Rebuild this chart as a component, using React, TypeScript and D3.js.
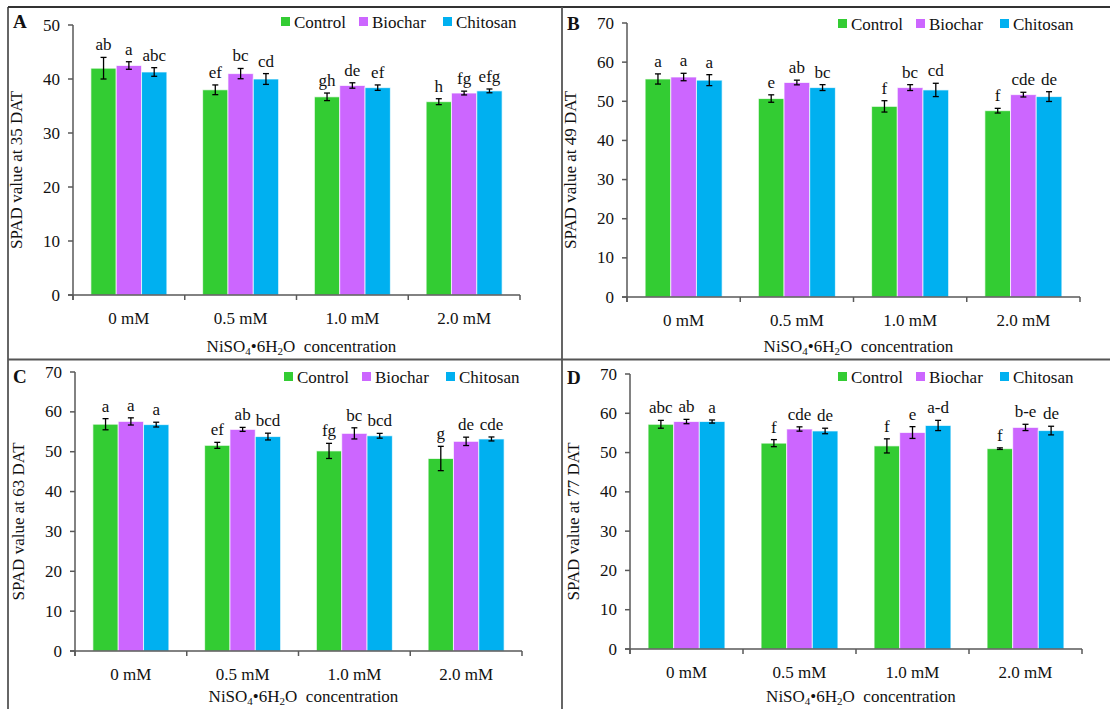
import React from "react";
import * as d3 from "d3";

const categories = ["0 mM", "0.5 mM", "1.0 mM", "2.0 mM"];
const seriesNames = ["Control", "Biochar", "Chitosan"];
const seriesColors = ["#33CC33", "#CC66FF", "#00B0F0"];

// Panel A: 35 DAT
const a35Control = [42.0, 38.0, 36.7, 35.8];
const a35Biochar = [42.5, 41.0, 38.8, 37.4];
const a35Chitosan = [41.3, 40.0, 38.4, 37.8];
const a35ControlErr = [2.0, 0.9, 0.7, 0.55];
const a35BiocharErr = [0.7, 0.95, 0.5, 0.35];
const a35ChitosanErr = [0.8, 1.0, 0.5, 0.35];
const a35Letters = [["ab", "a", "abc"], ["ef", "bc", "cd"], ["gh", "de", "ef"], ["h", "fg", "efg"]];
const a35Ticks = [0, 10, 20, 30, 40, 50];

// Panel B: 49 DAT
const b49Control = [55.7, 50.7, 48.7, 47.6];
const b49Biochar = [56.2, 54.8, 53.5, 51.7];
const b49Chitosan = [55.4, 53.5, 52.9, 51.2];
const b49ControlErr = [1.3, 0.95, 1.45, 0.6];
const b49BiocharErr = [0.95, 0.6, 0.75, 0.6];
const b49ChitosanErr = [1.4, 0.75, 1.7, 1.25];
const b49Letters = [["a", "a", "a"], ["e", "ab", "bc"], ["f", "bc", "cd"], ["f", "cde", "de"]];

// Panel C: 63 DAT
const c63Control = [56.9, 51.6, 50.2, 48.3];
const c63Biochar = [57.6, 55.6, 54.6, 52.6];
const c63Chitosan = [56.8, 53.8, 54.0, 53.2];
const c63ControlErr = [1.4, 0.75, 1.9, 3.05];
const c63BiocharErr = [0.9, 0.5, 1.4, 1.05];
const c63ChitosanErr = [0.6, 0.85, 0.6, 0.5];
const c63Letters = [["a", "a", "a"], ["ef", "ab", "bcd"], ["fg", "bc", "bcd"], ["g", "de", "cde"]];

// Panel D: 77 DAT
const d77Control = [57.2, 52.4, 51.7, 51.0];
const d77Biochar = [57.9, 56.0, 55.1, 56.4];
const d77Chitosan = [57.9, 55.5, 56.9, 55.6];
const d77ControlErr = [1.0, 0.9, 1.8, 0.2];
const d77BiocharErr = [0.55, 0.55, 1.5, 0.8];
const d77ChitosanErr = [0.4, 0.7, 1.3, 1.1];
const d77Letters = [["abc", "ab", "a"], ["f", "cde", "de"], ["f", "e", "a-d"], ["f", "b-e", "de"]];
const tick70 = [0, 10, 20, 30, 40, 50, 60, 70];

const panels = [
  {
    id: "A", ylabel: "SPAD value at 35 DAT", max: 50, ticks: a35Ticks,
    values: [a35Control, a35Biochar, a35Chitosan], errs: [a35ControlErr, a35BiocharErr, a35ChitosanErr], letters: a35Letters,
    left: 73, right: 520, top: 25, bottom: 295, tagX: 13, tagY: 28, legX: 281, legY: 22, xtOff: 57,
  },
  {
    id: "B", ylabel: "SPAD value at 49 DAT", max: 70, ticks: tick70,
    values: [b49Control, b49Biochar, b49Chitosan], errs: [b49ControlErr, b49BiocharErr, b49ChitosanErr], letters: b49Letters,
    left: 627, right: 1080, top: 23, bottom: 297, tagX: 567, tagY: 30, legX: 838, legY: 24, xtOff: 55,
  },
  {
    id: "C", ylabel: "SPAD value at 63 DAT", max: 70, ticks: tick70,
    values: [c63Control, c63Biochar, c63Chitosan], errs: [c63ControlErr, c63BiocharErr, c63ChitosanErr], letters: c63Letters,
    left: 75, right: 522, top: 372, bottom: 651, tagX: 13, tagY: 383, legX: 284, legY: 377, xtOff: 51,
  },
  {
    id: "D", ylabel: "SPAD value at 77 DAT", max: 70, ticks: tick70,
    values: [d77Control, d77Biochar, d77Chitosan], errs: [d77ControlErr, d77BiocharErr, d77ChitosanErr], letters: d77Letters,
    left: 630, right: 1082, top: 374, bottom: 649, tagX: 567, tagY: 384, legX: 838, legY: 377, xtOff: 53,
  },
];

const FONT = "'Liberation Serif', 'Times New Roman', serif";
const AXIS = "#595959";

function Panel({ p }: { p: any }) {
  const y = d3.scaleLinear().domain([0, p.max]).range([p.bottom, p.top]);
  const x0 = d3.scaleBand<string>().domain(categories).range([p.left, p.right]).paddingInner(0.32).paddingOuter(0.16);
  const x1 = d3.scaleBand<string>().domain(seriesNames).range([0, x0.bandwidth()]).padding(0);
  const step = x0.step();
  const boundaries = d3.range(categories.length + 1).map((i) => p.left + i * step);
  const legOffsets = [0, 78, 162];
  const midX = (p.left + p.right) / 2 + 5;
  const midY = (p.top + p.bottom) / 2 + 10;
  const yTitleX = p.left - 51;
  return (
    <g fontFamily={FONT}>
      {categories.map((c, ci) =>
        seriesNames.map((s, si) => {
          const v = p.values[si][ci];
          const bx = (x0(c) as number) + (x1(s) as number);
          return (
            <rect key={c + s} x={bx} y={y(v)} width={x1.bandwidth()} height={y(0) - y(v)}
              fill={seriesColors[si]} stroke="#ffffff" strokeOpacity={0.7} strokeWidth={1} />
          );
        })
      )}
      {categories.map((c, ci) =>
        seriesNames.map((s, si) => {
          const v = p.values[si][ci];
          const e = p.errs[si][ci];
          const cx = (x0(c) as number) + (x1(s) as number) + x1.bandwidth() / 2;
          const yt = y(v + e);
          const yb = y(v - e);
          return (
            <g key={"e" + c + s}>
              <line x1={cx} x2={cx} y1={yt} y2={yb} stroke="#000" strokeWidth={1.3} />
              <line x1={cx - 3} x2={cx + 3} y1={yt} y2={yt} stroke="#000" strokeWidth={1.3} />
              <line x1={cx - 3} x2={cx + 3} y1={yb} y2={yb} stroke="#000" strokeWidth={1.3} />
              <text x={cx} y={yt - 7} textAnchor="middle" fontSize={17} fill="#111">{p.letters[ci][si]}</text>
            </g>
          );
        })
      )}
      <line x1={p.left} x2={p.left} y1={y(p.max)} y2={p.bottom + 5} stroke={AXIS} strokeWidth={1.5} />
      {p.ticks.map((t: number) => (
        <g key={"t" + t}>
          <line x1={p.left - 5} x2={p.left} y1={y(t)} y2={y(t)} stroke={AXIS} strokeWidth={1.5} />
          <text x={p.left - 13} y={y(t)} dy="0.33em" textAnchor="end" fontSize={17} fill="#111">{t}</text>
        </g>
      ))}
      <line x1={p.left - 5} x2={p.right} y1={p.bottom} y2={p.bottom} stroke={AXIS} strokeWidth={1.5} />
      {boundaries.map((bx, i) => (
        <line key={"b" + i} x1={bx} x2={bx} y1={p.bottom} y2={p.bottom + 5} stroke={AXIS} strokeWidth={1.5} />
      ))}
      {categories.map((c) => (
        <text key={"c" + c} x={(x0(c) as number) + x0.bandwidth() / 2} y={p.bottom + 29} textAnchor="middle" fontSize={17} fill="#111">{c}</text>
      ))}
      <text x={midX} y={p.bottom + p.xtOff} textAnchor="middle" fontSize={17} fill="#111">
        <tspan>NiSO</tspan>
        <tspan fontSize={11} dy={3}>4</tspan>
        <tspan dy={-3}>•6H</tspan>
        <tspan fontSize={11} dy={3}>2</tspan>
        <tspan dy={-3} xmlSpace="preserve">O  concentration</tspan>
      </text>
      <text transform={`translate(${yTitleX},${midY}) rotate(-90)`} textAnchor="middle" fontSize={17} fill="#111">{p.ylabel}</text>
      <text x={p.tagX} y={p.tagY} fontSize={19} fontWeight="bold" fill="#111">{p.id}</text>
      {seriesNames.map((s, si) => (
        <g key={"l" + s}>
          <rect x={p.legX + legOffsets[si]} y={p.legY - 5} width={9} height={9} fill={seriesColors[si]} />
          <text x={p.legX + legOffsets[si] + 13} y={p.legY} dy="0.33em" fontSize={17} fill="#111">{s}</text>
        </g>
      ))}
    </g>
  );
}

export default function App() {
  return (
    <svg width={1110} height={709} style={{ position: "absolute", left: 0, top: 0, background: "#fff" }}>
      <rect x={0} y={0} width={1110} height={709} fill="#fff" />
      {panels.map((p) => (
        <Panel key={p.id} p={p} />
      ))}
      <line x1={8} x2={1110} y1={7} y2={7} stroke="#333" strokeWidth={1.8} />
      <line x1={8} x2={8} y1={7} y2={709} stroke="#333" strokeWidth={1.5} />
      <line x1={562} x2={562} y1={7} y2={709} stroke="#555" strokeWidth={1.8} />
      <line x1={8} x2={1110} y1={359.5} y2={359.5} stroke="#555" strokeWidth={1.8} />
    </svg>
  );
}
